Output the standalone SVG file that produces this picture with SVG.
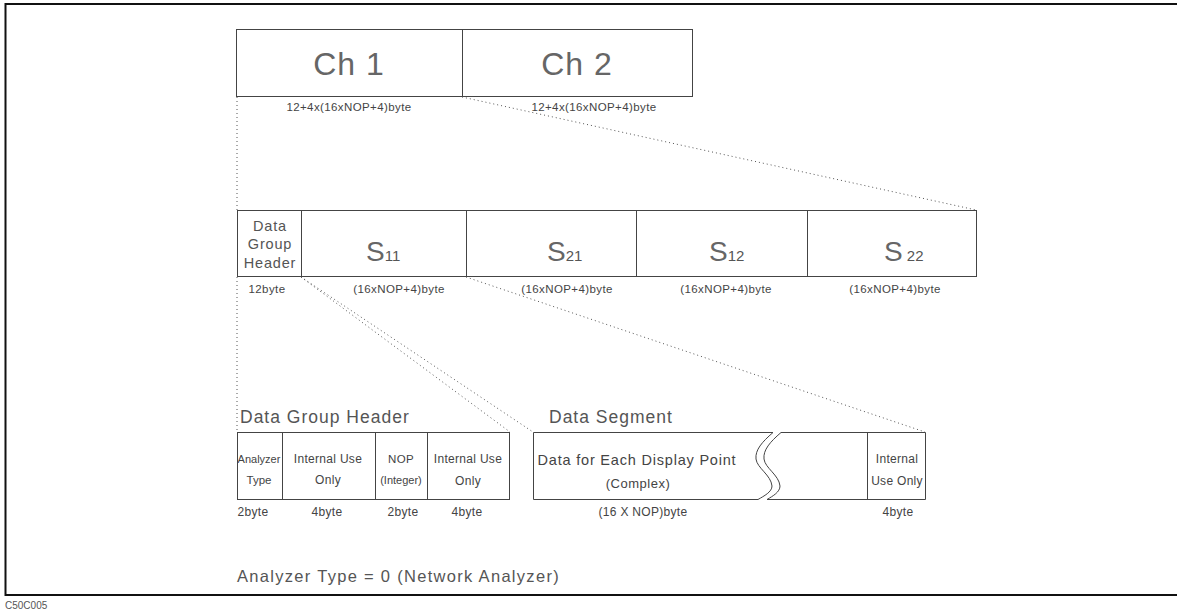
<svg xmlns="http://www.w3.org/2000/svg" width="1177" height="613" viewBox="0 0 1177 613">
<style>
.box{fill:#fff;stroke:#444;stroke-width:1}
.ln{stroke:#444;stroke-width:1;fill:none}
.dot{stroke:#555;stroke-width:1;stroke-dasharray:1 3;fill:none}
text{font-family:"Liberation Sans",Arial,sans-serif;fill:#444}
.big{font-size:32px;text-anchor:middle;fill:#666;letter-spacing:1px}
.sm{font-size:11.5px;text-anchor:middle;letter-spacing:0.4px}
.md{font-size:12px;text-anchor:middle;letter-spacing:0.3px}
.hd{font-size:14.5px;text-anchor:middle;fill:#555;letter-spacing:0.8px}
.ttl{font-size:17.5px;fill:#555;letter-spacing:1px}
.s{font-size:28px;fill:#666}
.sub{font-size:15px;fill:#555}
</style>
<rect x="5.5" y="4" width="1180" height="591" fill="none" stroke="#111" stroke-width="2"/>
<text x="5" y="609" style="font-size:10px;fill:#555">C50C005</text>

<g id="connectors">
<line class="dot" x1="237" y1="97" x2="237" y2="210"/>
<line class="dot" x1="237" y1="277" x2="237" y2="432"/>
<line class="dot" x1="462" y1="97" x2="976" y2="210"/>
<line class="dot" x1="301" y1="277" x2="510" y2="432"/>
<line class="dot" x1="301" y1="277" x2="533" y2="432"/>
<line class="dot" x1="466" y1="277" x2="925" y2="432"/>
</g>

<g id="ch1">
<rect class="box" x="236.5" y="29.5" width="226" height="67"/>
<text class="big" x="349" y="75">Ch 1</text>
<text class="sm" x="349" y="111">12+4x(16xNOP+4)byte</text>
</g>
<g id="ch2">
<rect class="box" x="462.5" y="29.5" width="230" height="67"/>
<text class="big" x="577" y="75">Ch 2</text>
<text class="sm" x="594" y="111">12+4x(16xNOP+4)byte</text>
</g>

<g id="hdr">
<rect class="box" x="237.5" y="210.5" width="64" height="66"/>
<text class="hd" x="270" y="231">Data</text>
<text class="hd" x="270" y="249">Group</text>
<text class="hd" x="270" y="268">Header</text>
<text class="sm" x="267" y="293">12byte</text>
</g>
<g id="s11">
<rect class="box" x="301.5" y="210.5" width="165" height="66"/>
<text x="366" y="261"><tspan class="s">S</tspan><tspan class="sub">11</tspan></text>
<text class="sm" x="399" y="293">(16xNOP+4)byte</text>
</g>
<g id="s21">
<rect class="box" x="466.5" y="210.5" width="170" height="66"/>
<text x="547" y="261"><tspan class="s">S</tspan><tspan class="sub">21</tspan></text>
<text class="sm" x="567" y="293">(16xNOP+4)byte</text>
</g>
<g id="s12">
<rect class="box" x="636.5" y="210.5" width="171" height="66"/>
<text x="709" y="261"><tspan class="s">S</tspan><tspan class="sub">12</tspan></text>
<text class="sm" x="726" y="293">(16xNOP+4)byte</text>
</g>
<g id="s22">
<rect class="box" x="807.5" y="210.5" width="169" height="66"/>
<text x="884" y="261"><tspan class="s">S</tspan><tspan class="sub"> 22</tspan></text>
<text class="sm" x="895" y="293">(16xNOP+4)byte</text>
</g>

<g id="dgh">
<text class="ttl" x="240" y="423">Data Group Header</text>
<rect class="box" x="237.5" y="432.5" width="272" height="67"/>
<line class="ln" x1="282.5" y1="432.5" x2="282.5" y2="499.5"/>
<line class="ln" x1="375.5" y1="432.5" x2="375.5" y2="499.5"/>
<line class="ln" x1="427.5" y1="432.5" x2="427.5" y2="499.5"/>
<text x="259" y="463" style="font-size:11px;text-anchor:middle">Analyzer</text>
<text x="259" y="484" style="font-size:11.5px;text-anchor:middle">Type</text>
<text class="md" x="328" y="463">Internal Use</text>
<text class="md" x="328" y="484">Only</text>
<text class="sm" x="401" y="463">NOP</text>
<text x="401" y="484" style="font-size:11px;text-anchor:middle">(Integer)</text>
<text class="md" x="468" y="463">Internal Use</text>
<text class="md" x="468" y="485">Only</text>
<text class="md" x="253" y="516">2byte</text>
<text class="md" x="327" y="516">4byte</text>
<text class="md" x="403" y="516">2byte</text>
<text class="md" x="467" y="516">4byte</text>
</g>

<g id="seg">
<text class="ttl" x="549" y="423">Data Segment</text>
<path class="ln" d="M773 432.5 H533.5 V499.5 H758"/>
<path class="ln" d="M781 432.5 H925.5 V499.5 H767"/>
<path class="ln" d="M773 432.5 C762 442 755 450 756 459 C757 468 771 475 772 486 C772 492 764 496 758 499.5"/>
<path class="ln" d="M781 432.5 C770 442 763 450 764 459 C765 468 779 475 780 486 C780 492 773 496 767 499.5"/>
<line class="ln" x1="867.5" y1="432.5" x2="867.5" y2="499.5"/>
<text x="637" y="465" style="font-size:14.5px;text-anchor:middle;letter-spacing:0.8px">Data for Each Display Point</text>
<text x="638" y="488" style="font-size:13px;text-anchor:middle;letter-spacing:0.5px">(Complex)</text>
<text class="md" x="897" y="463">Internal</text>
<text class="md" x="897" y="485">Use Only</text>
<text class="md" x="643" y="516">(16 X NOP)byte</text>
<text class="md" x="898" y="516">4byte</text>
</g>

<text x="237" y="582" style="font-size:16.5px;fill:#555;letter-spacing:1.3px">Analyzer Type = 0 (Network Analyzer)</text>
</svg>
